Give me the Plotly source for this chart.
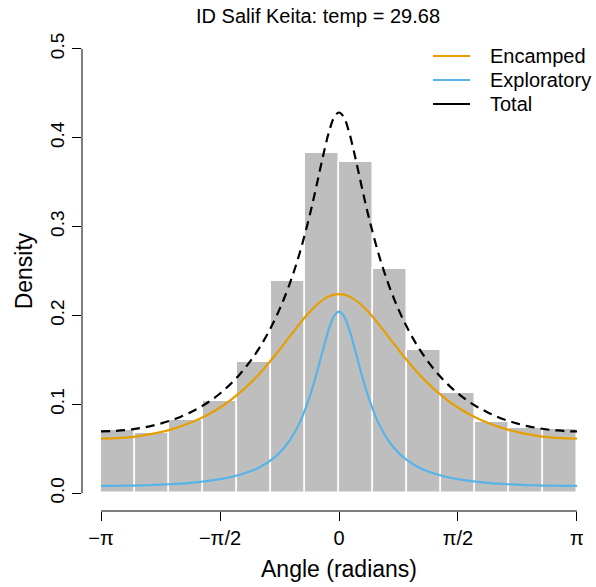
import numpy as np
import plotly.graph_objects as go

# ---- data ----
n_bins = 14
hist_density = [0.0711, 0.0681, 0.0824, 0.1037, 0.1475, 0.2382, 0.3824,
                0.3722, 0.2528, 0.1613, 0.1127, 0.0798, 0.0737, 0.0719]

# curve sample positions, in units of pi/24 radians
angle_units = [-24, -23, -22, -21, -20, -19, -18, -17, -16, -15, -14, -13, -12,
               -11, -10, -9, -8, -7, -6, -5, -4, -3, -2.5, -2, -1.5, -1, -0.5,
               0, 0.5, 1, 1.5, 2, 2.5, 3, 4, 5, 6, 7, 8, 9, 10, 11, 12, 13, 14,
               15, 16, 17, 18, 19, 20, 21, 22, 23, 24]

encamped = [0.0614, 0.0616, 0.0622, 0.0632, 0.0646, 0.0664, 0.0687, 0.0716,
            0.0750, 0.0792, 0.0840, 0.0897, 0.0964, 0.1042, 0.1131, 0.1233,
            0.1348, 0.1476, 0.1614, 0.1759, 0.1903, 0.2035, 0.2093, 0.2143,
            0.2184, 0.2215, 0.2234,
            0.2240,
            0.2234, 0.2215, 0.2184, 0.2143, 0.2093, 0.2035, 0.1903, 0.1759,
            0.1614, 0.1476, 0.1348, 0.1233, 0.1131, 0.1042, 0.0964, 0.0897,
            0.0840, 0.0792, 0.0750, 0.0716, 0.0687, 0.0664, 0.0646, 0.0632,
            0.0622, 0.0616, 0.0614]

exploratory = [0.0082, 0.0082, 0.0084, 0.0085, 0.0088, 0.0091, 0.0096, 0.0101,
               0.0108, 0.0117, 0.0128, 0.0141, 0.0158, 0.0180, 0.0208, 0.0244,
               0.0293, 0.0360, 0.0454, 0.0589, 0.0786, 0.1071, 0.1251, 0.1453,
               0.1662, 0.1854, 0.1992,
               0.2043,
               0.1992, 0.1854, 0.1662, 0.1453, 0.1251, 0.1071, 0.0786, 0.0589,
               0.0454, 0.0360, 0.0293, 0.0244, 0.0208, 0.0180, 0.0158, 0.0141,
               0.0128, 0.0117, 0.0108, 0.0101, 0.0096, 0.0091, 0.0088, 0.0085,
               0.0084, 0.0082, 0.0082]

total = [0.0696, 0.0698, 0.0706, 0.0717, 0.0734, 0.0755, 0.0783, 0.0817,
         0.0858, 0.0909, 0.0968, 0.1038, 0.1122, 0.1222, 0.1339, 0.1477,
         0.1641, 0.1836, 0.2068, 0.2348, 0.2689, 0.3106, 0.3344, 0.3596,
         0.3846, 0.4069, 0.4226,
         0.4283,
         0.4226, 0.4069, 0.3846, 0.3596, 0.3344, 0.3106, 0.2689, 0.2348,
         0.2068, 0.1836, 0.1641, 0.1477, 0.1339, 0.1222, 0.1122, 0.1038,
         0.0968, 0.0909, 0.0858, 0.0817, 0.0783, 0.0755, 0.0734, 0.0717,
         0.0706, 0.0698, 0.0696]

x_tick_vals = [-np.pi, -np.pi / 2, 0, np.pi / 2, np.pi]
x_tick_text = ["\u2212\u03c0", "\u2212\u03c0/2", "0", "\u03c0/2", "\u03c0"]
y_tick_vals = [0.0, 0.1, 0.2, 0.3, 0.4, 0.5]
y_tick_text = ["0.0", "0.1", "0.2", "0.3", "0.4", "0.5"]

legend_labels = ["Encamped", "Exploratory", "Total"]
title_text = "ID Salif Keita: temp = 29.68"

# ---- styling / derived positions ----
FONT = "Liberation Sans, Arial, Helvetica, sans-serif"
ORANGE = "#E69F00"
BLUE = "#56B4E9"
legend_colors = [ORANGE, BLUE, "black"]

bin_w = 2 * np.pi / n_bins
bin_centers = [-np.pi + (i + 0.5) * bin_w for i in range(n_bins)]
theta = [k * np.pi / 24 for k in angle_units]

fig = go.Figure()
fig.add_trace(go.Bar(x=bin_centers, y=hist_density, width=bin_w,
                     marker=dict(color="#BEBEBE", line=dict(color="white", width=1.5)),
                     showlegend=False, hoverinfo="skip"))
fig.add_trace(go.Scatter(x=theta, y=encamped, mode="lines", name="Encamped",
                         line=dict(color=ORANGE, width=2.2, shape="spline"),
                         showlegend=False))
fig.add_trace(go.Scatter(x=theta, y=exploratory, mode="lines", name="Exploratory",
                         line=dict(color=BLUE, width=2.2, shape="spline"),
                         showlegend=False))
fig.add_trace(go.Scatter(x=theta, y=total, mode="lines", name="Total",
                         line=dict(color="black", width=2.2, dash="9px,6px", shape="spline"),
                         showlegend=False))

xr = [-np.pi * 1.08, np.pi * 1.08]
yr = [-0.02, 0.52]

fig.update_layout(
    width=596, height=587,
    margin=dict(l=82, r=0, t=31, b=76),
    paper_bgcolor="white", plot_bgcolor="white",
    font=dict(family=FONT, size=20, color="black"),
    title=dict(text=title_text, x=318 / 596, xanchor="center", xref="container",
               y=1 - 16 / 587, yanchor="middle", yref="container",
               font=dict(size=20, color="black")),
    showlegend=False,
    bargap=0,
    xaxis=dict(range=xr, showgrid=False, zeroline=False, showline=False,
               tickvals=x_tick_vals, ticktext=x_tick_text,
               ticks="outside", ticklen=9, tickwidth=1, tickcolor="black",
               tickfont=dict(size=20),
               title=dict(text="Angle (radians)", font=dict(size=23), standoff=12)),
    yaxis=dict(range=yr, showgrid=False, zeroline=False, showline=False,
               tickvals=y_tick_vals, ticktext=y_tick_text, tickangle=-90,
               ticks="outside", ticklen=9, tickwidth=1, tickcolor="black",
               tickfont=dict(size=19),
               title=dict(text="Density", font=dict(size=23), standoff=8)),
)

# R-style axis lines spanning only the tick range
fig.add_shape(type="line", xref="x", yref="paper", x0=-np.pi, x1=np.pi, y0=0, y1=0,
              line=dict(color="black", width=1))
fig.add_shape(type="line", xref="paper", yref="y", x0=0, x1=0, y0=0, y1=0.5,
              line=dict(color="black", width=1))

# legend (R style: line key + label), placed in paper coordinates
leg_y = [0.9479, 0.8979, 0.8479]
for lab, col, ly in zip(legend_labels, legend_colors, leg_y):
    fig.add_shape(type="line", xref="paper", yref="paper", x0=0.6829, x1=0.7549,
                  y0=ly, y1=ly, line=dict(color=col, width=2.2))
    fig.add_annotation(xref="paper", yref="paper", x=0.7899, y=ly, text=lab,
                       showarrow=False, xanchor="left", yanchor="middle",
                       font=dict(size=20, color="black"))

fig.write_html("out.html")
